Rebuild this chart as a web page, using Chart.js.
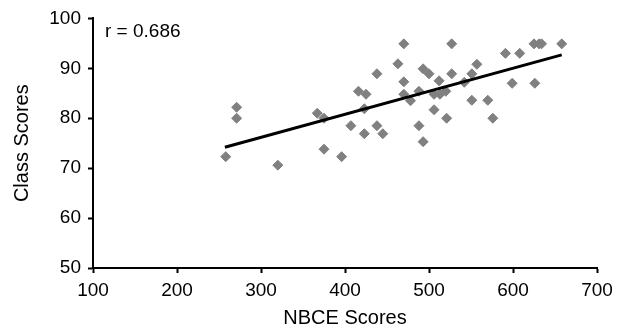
<!DOCTYPE html>
<html>
<head>
<meta charset="utf-8">
<script src="https://cdn.jsdelivr.net/npm/chart.js@4"></script>
<style>
  html, body { margin: 0; padding: 0; background: #fff; }
  #wrap { width: 625px; height: 331px; }
</style>
</head>
<body>
<div id="wrap"><canvas id="scatter"></canvas></div>
<script>
// ========= DATA =========
const nbceScores = [
    258, 271, 271, 320, 367, 375, 375, 396, 407, 416, 423, 423,
    425, 438, 438, 445, 463, 470, 470, 470, 478, 488, 488, 493,
    493, 500, 506, 506, 512, 513, 520, 521, 527, 527, 542, 551,
    551, 557, 570, 576, 591, 599, 608, 625, 626, 631, 634, 658
];
const classScores = [
    72.3, 82.2, 80.0, 70.6, 81.0, 80.0, 73.8, 72.3, 78.5, 85.4, 81.9, 76.9,
    84.8, 88.9, 78.5, 76.9, 90.9, 94.9, 87.3, 84.8, 83.5, 85.4, 78.5, 75.3,
    89.9, 88.9, 84.8, 81.7, 87.5, 84.8, 85.4, 80.0, 94.9, 88.9, 87.2, 88.9,
    83.6, 90.8, 83.6, 80.0, 93.0, 87.0, 93.0, 94.9, 87.0, 94.9, 94.9, 94.9
];
const trendX = [257, 658];
const trendY = [74.2, 92.7];
const xTicks = [100, 200, 300, 400, 500, 600, 700];
const yTicks = [50, 60, 70, 80, 90, 100];
const rLabel = 'r = 0.686';

// ========= SHARED STYLE =========
const FAMILY = "'Liberation Sans', Arial, sans-serif";
const TICK_FONT = { family: FAMILY, size: 19 };
const TITLE_FONT = { family: FAMILY, size: 20 };

function axisOptions(title, values, pad, fit) {
    return {
        type: 'linear',
        min: values[0],
        max: values[values.length - 1],
        afterBuildTicks: scale => {
            scale.ticks = values.map(v => ({ value: v }));
        },
        afterFit: fit,
        ticks: { color: '#000', font: TICK_FONT, padding: pad, maxRotation: 0 },
        grid: {
            drawOnChartArea: false,
            tickLength: 5,
            tickColor: '#000',
            tickWidth: 2
        },
        border: { color: '#000', width: 2 },
        title: { display: true, text: title, color: '#000', font: TITLE_FONT, padding: 0 }
    };
}

// r value written in the top-left corner of the plot
const rValuePlugin = {
    id: 'rValue',
    afterDraw(chart) {
        const { ctx, chartArea } = chart;
        ctx.save();
        ctx.font = `${TICK_FONT.size}px ${FAMILY}`;
        ctx.fillStyle = '#000';
        ctx.textBaseline = 'middle';
        ctx.fillText(rLabel, chartArea.left + 12, chartArea.top + 13);
        ctx.restore();
    }
};

// ========= CHART =========
new Chart(document.getElementById('scatter'), {
    type: 'scatter',
    data: {
        datasets: [
            {
                label: 'Scores',
                data: nbceScores.map((x, i) => ({ x, y: classScores[i] })),
                pointStyle: 'rectRot',
                pointRadius: 5,
                borderWidth: 1,
                backgroundColor: '#808080',
                borderColor: '#808080',
                order: 2
            },
            {
                label: 'Trend',
                type: 'line',
                data: trendX.map((x, i) => ({ x, y: trendY[i] })),
                borderColor: '#000',
                borderWidth: 3,
                pointRadius: 0,
                fill: false,
                order: 1
            }
        ]
    },
    options: {
        responsive: true,
        maintainAspectRatio: false,
        animation: false,
        layout: { padding: { left: 10, right: 28, top: 17, bottom: 1 } },
        scales: {
            x: axisOptions('NBCE Scores', xTicks, 6, s => { s.height = 62; }),
            y: axisOptions('Class Scores', yTicks, 7, s => { s.width = 83; })
        },
        plugins: {
            legend: { display: false },
            tooltip: { enabled: false }
        }
    },
    plugins: [rValuePlugin]
});
</script>
</body>
</html>
